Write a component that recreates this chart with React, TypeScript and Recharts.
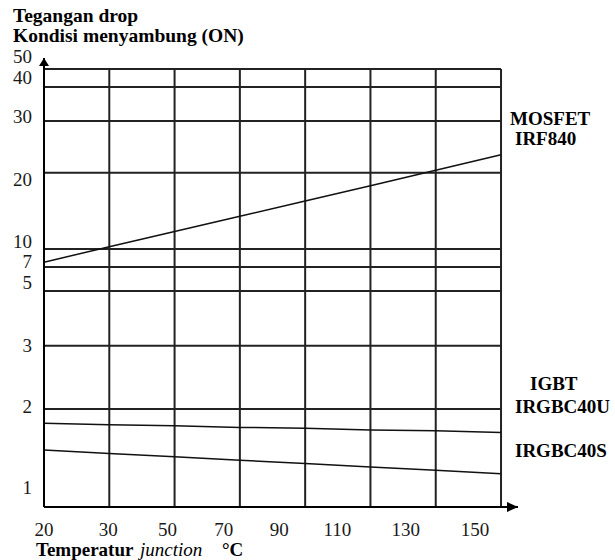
import { LineChart, Line, XAxis, YAxis, ReferenceLine, ReferenceDot } from 'recharts'

const temps = [20, 30, 50, 70, 90, 110, 130, 150]
const mosfetIrf840 = [7.8, 10.3, 12.3, 14.3, 16.3, 18.3, 20.5, 23.5]
const igbtIrgbc40u = [1.83, 1.81, 1.8, 1.78, 1.77, 1.75, 1.74, 1.72]
const igbtIrgbc40s = [1.51, 1.47, 1.43, 1.39, 1.35, 1.31, 1.27, 1.23]
const voltTicks = [1, 2, 3, 5, 7, 10, 20, 30, 40, 50]
const gridVolts = [2, 3, 5, 7, 10, 20, 30, 40, 50]

// the printed volt axis is hand drawn, not a true log scale:
// share of the axis height where each tick value sits
const voltTickHeights = [0.032, 0.224, 0.368, 0.493, 0.548, 0.589, 0.763, 0.881, 0.959, 1]
// small label offsets (px) as in the printed figure
const voltLabelShift = [-5, -2, 0, -8, -5, -7, 7, -4, -9, -12]
const tempLabelShift = [0, -1, -7, -16, -26, -33, -30, -26]

const lastCol = temps.length - 1
const xMax = 7.26
const yMax = 1.0251
const font = "'Liberation Serif', 'Times New Roman', serif"
const ink = '#1a1a1a'

function axisPos(v: number) {
  for (let i = 0; i < voltTicks.length - 1; i++) {
    const a = voltTicks[i]
    const b = voltTicks[i + 1]
    if (v <= b || i === voltTicks.length - 2) {
      const t = (v - a) / (b - a)
      return voltTickHeights[i] + t * (voltTickHeights[i + 1] - voltTickHeights[i])
    }
  }
  return 0
}

const data = temps.map((t, i) => ({
  col: i,
  temp: t,
  mosfet: mosfetIrf840[i],
  u: igbtIrgbc40u[i],
  s: igbtIrgbc40s[i],
}))

function YTick(props: any) {
  const { x, y, payload } = props
  let idx = 0
  voltTickHeights.forEach((h, i) => {
    if (Math.abs(h - payload.value) < Math.abs(voltTickHeights[idx] - payload.value)) idx = i
  })
  return (
    <text x={x} y={y + voltLabelShift[idx] + 6} textAnchor='end' fontFamily={font} fontSize={19} fill={ink}>
      {voltTicks[idx]}
    </text>
  )
}

function XTick(props: any) {
  const { x, y, payload } = props
  const i = Math.round(payload.value)
  return (
    <text x={x + tempLabelShift[i]} y={y + 21} textAnchor='middle' fontFamily={font} fontSize={19} fill={ink}>
      {temps[i]}
    </text>
  )
}

export default function App() {
  const cols = temps.map((_, i) => i)
  return (
    <div style={{ position: 'absolute', left: 0, top: 0, width: 615, height: 560, background: '#fff' }}>
      <LineChart width={615} height={560} data={data} margin={{ top: 58, right: 97, bottom: 23, left: 0 }}>
        <XAxis
          type='number'
          dataKey='col'
          domain={[0, xMax]}
          ticks={cols}
          interval={0}
          tick={<XTick />}
          tickLine={false}
          tickSize={0}
          tickMargin={8}
          height={30}
          axisLine={{ stroke: '#000', strokeWidth: 2 }}
        />
        <YAxis
          type='number'
          domain={[0, yMax]}
          ticks={voltTicks.map(axisPos)}
          interval={0}
          tick={<YTick />}
          tickLine={false}
          tickSize={0}
          tickMargin={12}
          width={44}
          axisLine={{ stroke: '#000', strokeWidth: 2 }}
        />
        {gridVolts.map((v) => (
          <ReferenceLine
            key={'h' + v}
            segment={[{ x: 0, y: axisPos(v) }, { x: lastCol, y: axisPos(v) }]}
            stroke='#222'
            strokeWidth={2}
          />
        ))}
        {cols.slice(1).map((c) => (
          <ReferenceLine
            key={'v' + c}
            segment={[{ x: c, y: 0 }, { x: c, y: 1 }]}
            stroke='#222'
            strokeWidth={2}
          />
        ))}
        <ReferenceDot
          x={0}
          y={yMax}
          ifOverflow='visible'
          shape={(p: any) => <path d={`M${p.cx},${p.cy} L${p.cx - 5},${p.cy + 8} L${p.cx + 5},${p.cy + 8} Z`} fill='#000' />}
        />
        <ReferenceDot
          x={xMax}
          y={0}
          ifOverflow='visible'
          shape={(p: any) => <path d={`M${p.cx},${p.cy} L${p.cx - 11},${p.cy - 5} L${p.cx - 11},${p.cy + 5} Z`} fill='#000' />}
        />
        <Line type='linear' dataKey={(d: any) => axisPos(d.mosfet)} stroke='#111' strokeWidth={1.5} dot={false} isAnimationActive={false} />
        <Line type='linear' dataKey={(d: any) => axisPos(d.u)} stroke='#111' strokeWidth={1.5} dot={false} isAnimationActive={false} />
        <Line type='linear' dataKey={(d: any) => axisPos(d.s)} stroke='#111' strokeWidth={1.5} dot={false} isAnimationActive={false} />
      </LineChart>
      <svg width={615} height={560} style={{ position: 'absolute', left: 0, top: 0, pointerEvents: 'none' }}>
        <g fontFamily={font} fontSize={19} fontWeight='bold' fill='#000'>
          <text x={13} y={22} fontSize={19.5}>Tegangan drop</text>
          <text x={13} y={42} fontSize={19.5}>Kondisi menyambung (ON)</text>
          <text x={510} y={125}>MOSFET</text>
          <text x={515} y={145}>IRF840</text>
          <text x={530} y={390}>IGBT</text>
          <text x={515} y={413}>IRGBC40U</text>
          <text x={515} y={457}>IRGBC40S</text>
          <text y={556}>
            <tspan x={36}>Temperatur</tspan>
            <tspan x={140} fontStyle='italic' fontWeight='normal'>junction</tspan>
            <tspan x={222}>°C</tspan>
          </text>
        </g>
      </svg>
    </div>
  )
}
